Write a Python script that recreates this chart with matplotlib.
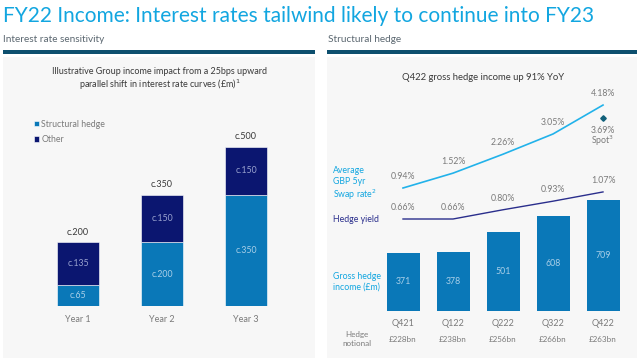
import numpy as np
import matplotlib
matplotlib.use("Agg")
import matplotlib.pyplot as plt
from matplotlib.patches import Rectangle

plt.rcParams['font.family'] = ['Lato', 'DejaVu Sans']

W, H = 640, 361

# left panel data
years = ['Year 1', 'Year 2', 'Year 3']
hedge_part = [65, 200, 350]
other_part = [135, 150, 150]
hedge_lbl = ['c.65', 'c.200', 'c.350']
other_lbl = ['c.135', 'c.150', 'c.150']
total_lbl = ['c.200', 'c.350', 'c.500']

# right panel data
quarters = ['Q421', 'Q122', 'Q222', 'Q322', 'Q422']
gross_income = [371, 378, 501, 608, 709]
swap_rate = [0.94, 1.52, 2.26, 3.05, 4.18]
hedge_yield = [0.66, 0.66, 0.80, 0.93, 1.07]
notional = ['£228bn', '£238bn', '£256bn', '£266bn', '£263bn']
spot_rate = 3.69

CYAN = '#12a6e0'
NAVY = '#0b1670'
BLUE = '#0a78b8'
LINE_CYAN = '#22b2ea'
LINE_NAVY = '#2a2e8c'
GREY = '#7a7a7a'
DARK = '#3a3a3a'


def fx(x):
    return x / W


def fy(y):
    return 1 - y / H


def box(x0, y0, x1, y1):
    # pixel box (top-left origin) -> figure rect
    return [fx(x0), fy(y1), (x1 - x0) / W, (y1 - y0) / H]


fig = plt.figure(figsize=(6.4, 3.61), dpi=100)
fig.patch.set_facecolor('white')

# panels background + header rules
for x0, x1 in [(3, 315), (327, 637)]:
    fig.patches.append(Rectangle((fx(x0), fy(358)), (x1 - x0) / W, (358 - 57) / H,
                                 transform=fig.transFigure, facecolor='#f7f7f7',
                                 edgecolor='none', zorder=-2))
    fig.patches.append(Rectangle((fx(x0), fy(53.5)), (x1 - x0) / W, 3 / H,
                                 transform=fig.transFigure, facecolor='#0d4f6e',
                                 edgecolor='none', zorder=-2))

fig.text(fx(3), fy(16), 'FY22 Income: Interest rates tailwind likely to continue into FY23',
         color=CYAN, fontsize=15, va='center', ha='left')
fig.text(fx(3), fy(40), 'Interest rate sensitivity', color='#5b6770', fontsize=7.2,
         va='center', ha='left')
fig.text(fx(328), fy(40), 'Structural hedge', color='#5b6770', fontsize=7.2,
         va='center', ha='left')

########## left: interest rate sensitivity ##########
axl = fig.add_axes(box(36, 57, 288, 306))
axl.set_xlim(-0.5, 2.5)
axl.set_ylim(0, 249 / 0.318)
axl.axis('off')
x = np.arange(len(years))
b1 = axl.bar(x, hedge_part, width=0.49, color=BLUE, edgecolor='white', linewidth=0.4,
             label='Structural hedge')
b2 = axl.bar(x, other_part, bottom=hedge_part, width=0.49, color=NAVY, edgecolor='white',
             linewidth=0.4, label='Other')
for i in range(len(years)):
    axl.text(i, hedge_part[i] / 2, hedge_lbl[i], ha='center', va='center',
             color='#a9cfe8', fontsize=6.3)
    axl.text(i, hedge_part[i] + other_part[i] / 2, other_lbl[i], ha='center', va='center',
             color='#9aa3cf', fontsize=6.3)
    axl.annotate(total_lbl[i], (i, hedge_part[i] + other_part[i]), xytext=(0, 4),
                 textcoords='offset points', ha='center', va='bottom', color=DARK, fontsize=6.5)
    axl.text(i, -14 / 0.318, years[i], ha='center', va='center', color=GREY, fontsize=6.5)

fig.text(fx(160), fy(72), 'Illustrative Group income impact from a 25bps upward',
         ha='center', va='center', color=DARK, fontsize=6.5)
fig.text(fx(160), fy(85), 'parallel shift in interest rate curves (£m)$^1$',
         ha='center', va='center', color=DARK, fontsize=6.5)

leg = fig.legend(handles=[b1, b2], loc='upper left', bbox_to_anchor=(fx(30), fy(116)),
                 frameon=False, fontsize=6.3, handlelength=0.6, handleheight=0.6,
                 handletextpad=0.3, labelspacing=0.75, borderaxespad=0)
for t in leg.get_texts():
    t.set_color(GREY)

########## right: structural hedge ##########
axr = fig.add_axes(box(378, 57, 628, 311))
axr.set_xlim(-0.5, 4.5)
axr.set_ylim(0, 254 / 0.157)
axr.axis('off')
q = np.arange(len(quarters))
axr.bar(q, gross_income, width=0.66, color=BLUE)
for i, v in enumerate(gross_income):
    axr.text(i, v / 2, str(v), ha='center', va='center', color='#a9cfe8', fontsize=6.3)
    axr.text(i, -12 / 0.157, quarters[i], ha='center', va='center', color=GREY, fontsize=6.5)
    axr.text(i, -28 / 0.157, notional[i], ha='center', va='center', color=GREY, fontsize=5.8)

# swap rate line
axs = fig.add_axes(box(378, 57, 628, 311), sharex=axr)
axs.patch.set_alpha(0)
axs.axis('off')
axs.set_ylim(0.94 - 123 / 25.6, 0.94 - 123 / 25.6 + 254 / 25.6)
axs.plot(q, swap_rate, color=LINE_CYAN, lw=1.2)
for i, v in enumerate(swap_rate):
    axs.annotate(f'{v:.2f}%', (i, v), xytext=(0, 5), textcoords='offset points',
                 ha='center', va='bottom', color=GREY, fontsize=6.3)
axs.plot([4], [spot_rate], marker='D', ms=2.8, color='#11607a', ls='none')
axs.annotate(f'{spot_rate:.2f}%', (4, spot_rate), xytext=(0, -9), textcoords='offset points',
             ha='center', va='center', color=GREY, fontsize=6.3)
axs.annotate('Spot$^3$', (4, spot_rate), xytext=(0, -17), textcoords='offset points',
             ha='center', va='center', color=GREY, fontsize=6.3)

# hedge yield line
axy = fig.add_axes(box(378, 57, 628, 311), sharex=axr)
axy.patch.set_alpha(0)
axy.axis('off')
axy.set_ylim(0.66 - 92 / 66, 0.66 - 92 / 66 + 254 / 66)
axy.plot(q, hedge_yield, color=LINE_NAVY, lw=1.0)
for i, v in enumerate(hedge_yield):
    axy.annotate(f'{v:.2f}%', (i, v), xytext=(0, 5), textcoords='offset points',
                 ha='center', va='bottom', color=GREY, fontsize=6.3)

fig.text(fx(483), fy(78), 'Q422 gross hedge income up 91% YoY', ha='center', va='center',
         color=DARK, fontsize=6.8)
fig.text(fx(333), fy(184), 'Average\nGBP 5yr\nSwap rate$^2$', ha='left', va='center',
         color=CYAN, fontsize=6.3, linespacing=1.15)
fig.text(fx(333), fy(219), 'Hedge yield', ha='left', va='center', color=LINE_NAVY, fontsize=6.3)
fig.text(fx(333), fy(282), 'Gross hedge\nincome (£m)', ha='left', va='center', color=CYAN,
         fontsize=6.3, linespacing=1.2)
fig.text(fx(357), fy(339), 'Hedge\nnotional', ha='center', va='center', color=GREY,
         fontsize=5.8, linespacing=1.3)

fig.savefig('out.png', dpi=100)
